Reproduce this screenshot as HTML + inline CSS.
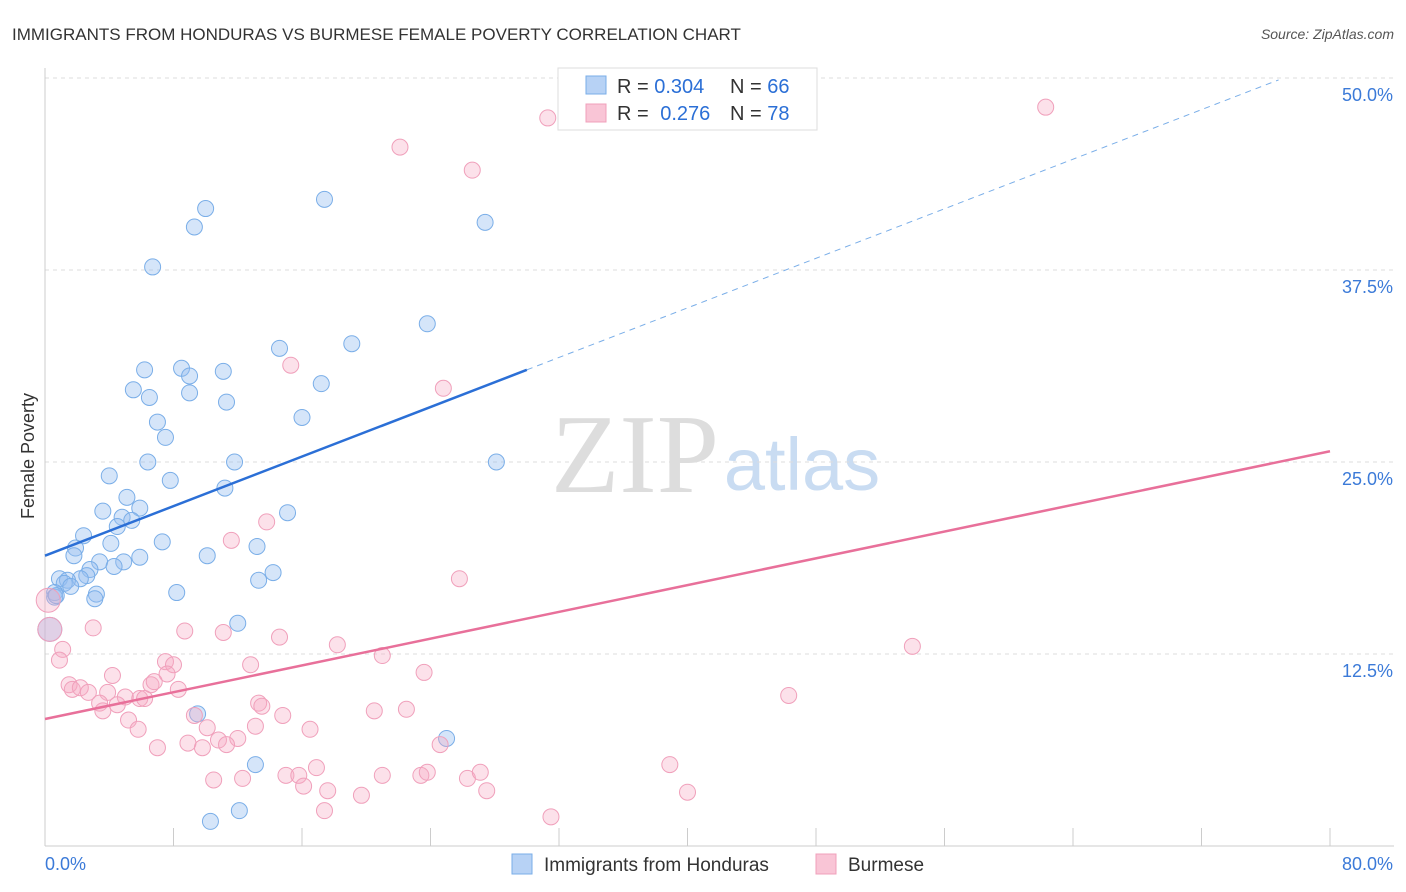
<!DOCTYPE html>
<html><head><meta charset="utf-8"><style>
body{margin:0;background:#fff;font-family:"Liberation Sans",sans-serif;}
svg{display:block}
</style></head><body>
<svg id="chart" width="1406" height="892">
<text x="12" y="40" font-size="17" fill="#333">IMMIGRANTS FROM HONDURAS VS BURMESE FEMALE POVERTY CORRELATION CHART</text>
<text x="1394" y="39" font-size="14" fill="#555" font-style="italic" text-anchor="end">Source: ZipAtlas.com</text>
<g>
<text x="635" y="492" font-size="112" font-family="Liberation Serif,serif" fill="#ddd" text-anchor="middle">ZIP</text>
<text x="802" y="490" font-size="74" fill="#c9dcf2" text-anchor="middle">atlas</text>
</g>
<g id="grid"></g>
<g id="axes"></g>
<g id="marks"></g>
<text transform="translate(34,456) rotate(-90)" font-size="18" fill="#333" text-anchor="middle">Female Poverty</text>
<g>
<rect x="558" y="68" width="259" height="62" fill="#fff" stroke="#ddd"/>
<rect x="586" y="76" width="20" height="18" fill="#b7d2f5" stroke="#7aaee8"/>
<rect x="586" y="104" width="20" height="18" fill="#f9c5d6" stroke="#f0a0bb"/>
<text x="617" y="93" font-size="20" fill="#333">R = <tspan fill="#2b6fd6">0.304</tspan><tspan x="730">N = </tspan><tspan fill="#2b6fd6">66</tspan></text>
<text x="617" y="120" font-size="20" fill="#333">R = <tspan fill="#2b6fd6" dx="6">0.276</tspan><tspan x="730">N = </tspan><tspan fill="#2b6fd6">78</tspan></text>
</g>
<g>
<rect x="512" y="854" width="20" height="20" fill="#b7d2f5" stroke="#7aaee8"/>
<text x="544" y="871" font-size="19" fill="#333">Immigrants from Honduras</text>
<rect x="816" y="854" width="20" height="20" fill="#f9c5d6" stroke="#f0a0bb"/>
<text x="848" y="871" font-size="19" fill="#333">Burmese</text>
</g>
</svg>
<script>
const yTicks=[12.5,25,37.5,50];
const yTickLabels=["12.5%","25.0%","37.5%","50.0%"];
const xTickLabels=["0.0%","80.0%"];
const hondurasX=[6.7,10.0,9.3,17.4,27.4,23.8,14.6,19.1,6.2,8.5,11.1,9.0,17.2,5.5,9.0,6.5,11.3,16.0,7.0,7.5,6.4,11.8,28.1,4.0,7.8,11.2,5.1,5.9,3.6,15.1,4.8,5.4,4.5,2.4,4.1,7.3,1.9,13.2,1.8,10.1,5.9,3.4,4.9,2.8,4.3,14.2,2.6,0.9,2.2,1.4,13.3,1.2,1.6,0.6,3.2,8.2,3.1,0.6,12.0,0.3,9.5,25.0,13.1,12.1,10.3,0.7];
const hondurasY=[37.7,41.5,40.3,42.1,40.6,34.0,32.4,32.7,31.0,31.1,30.9,30.6,30.1,29.7,29.5,29.2,28.9,27.9,27.6,26.6,25.0,25.0,25.0,24.1,23.8,23.3,22.7,22.0,21.8,21.7,21.4,21.2,20.8,20.2,19.7,19.8,19.4,19.5,18.9,18.9,18.8,18.5,18.5,18.0,18.2,17.8,17.6,17.4,17.4,17.3,17.3,17.1,16.9,16.5,16.4,16.5,16.1,16.2,14.5,14.1,8.6,7.0,5.3,2.3,1.6,16.3];
const burmeseX=[62.3,31.3,22.1,26.6,15.3,24.8,13.8,11.6,25.8,0.2,0.3,3.0,8.7,11.1,14.6,18.2,54.0,1.1,21.0,0.9,12.8,7.5,8.0,7.6,4.2,23.6,1.5,6.6,6.8,8.3,1.7,2.2,2.7,3.9,5.0,5.9,6.2,3.4,46.3,4.5,13.3,13.5,3.6,20.5,22.5,9.3,14.8,5.2,10.1,13.1,16.5,5.8,10.8,12.0,8.9,11.3,7.0,9.8,24.6,16.9,38.9,15.0,15.8,21.0,23.4,23.8,10.5,12.3,26.3,27.1,16.1,17.6,27.5,40.0,19.7,17.4,31.5];
const burmeseY=[48.1,47.4,45.5,44.0,31.3,29.8,21.1,19.9,17.4,16.0,14.1,14.2,14.0,13.9,13.6,13.1,13.0,12.8,12.4,12.1,11.8,12.0,11.8,11.2,11.1,11.3,10.5,10.5,10.7,10.2,10.2,10.3,10.0,10.0,9.7,9.6,9.6,9.3,9.8,9.2,9.3,9.1,8.8,8.8,8.9,8.5,8.5,8.2,7.7,7.8,7.6,7.6,6.9,7.0,6.7,6.6,6.4,6.4,6.6,5.1,5.3,4.6,4.6,4.6,4.6,4.8,4.3,4.4,4.4,4.8,3.9,3.6,3.6,3.5,3.3,2.3,1.9];
const hondurasTrend=[18.9,31.0];
const burmeseTrend=[8.27,25.7];
const NS="http://www.w3.org/2000/svg";
const X=v=>45+v*(1285/80), Y=v=>846-v*15.36;
function mk(p,t,a){const e=document.createElementNS(NS,t);for(const k in a)e.setAttribute(k,a[k]);p.appendChild(e);return e;}
const grid=document.getElementById('grid'),axes=document.getElementById('axes'),marks=document.getElementById('marks');
yTicks.forEach((v,i)=>{
 const l=mk(grid,'line',{x1:45,x2:1394,y1:Y(v),y2:Y(v),stroke:'#ddd','stroke-dasharray':'4,4'});
 
 
 const t=mk(axes,'text',{x:1393,y:Y(v)+23,'font-size':18,fill:'#3b7ad8','text-anchor':'end'});t.textContent=yTickLabels[i];
 
 
});
mk(axes,'line',{x1:45,x2:45,y1:68,y2:846,stroke:'#ccc'});
mk(axes,'line',{x1:45,x2:1394,y1:846,y2:846,stroke:'#ccc'});
for(let i=1;i<=10;i++){const xx=X(i*8);const tk=mk(axes,'line',{x1:xx,x2:xx,y1:828,y2:846,stroke:'#ccc'});
 
 }
const x0=mk(axes,'text',{x:45,y:870,'font-size':18,fill:'#3b7ad8'});x0.textContent=xTickLabels[0];


const x1=mk(axes,'text',{x:1393,y:870,'font-size':18,fill:'#3b7ad8','text-anchor':'end'});x1.textContent=xTickLabels[1];


function big(x,y){return x<0.5&&y>13;}
hondurasX.forEach((x,i)=>{const y=hondurasY[i];
 const c=mk(marks,'circle',{cx:X(x),cy:Y(y),r:big(x,y)?12:8,fill:'rgba(150,190,240,0.4)',stroke:'#7aaee8','stroke-width':1});
 
 });
burmeseX.forEach((x,i)=>{const y=burmeseY[i];
 const c=mk(marks,'circle',{cx:X(x),cy:Y(y),r:big(x,y)?12:8,fill:'rgba(245,170,195,0.35)',stroke:'#f0a0bb','stroke-width':1});
 
 });
const hs=(hondurasTrend[1]-hondurasTrend[0])/30;
const h1=mk(marks,'line',{x1:X(0),y1:Y(hondurasTrend[0]),x2:X(30),y2:Y(hondurasTrend[1]),stroke:'#2b6fd6','stroke-width':2.5});


const xe=76.8;
const h2=mk(marks,'line',{x1:X(30),y1:Y(hondurasTrend[1]),x2:X(xe),y2:Y(hondurasTrend[0]+hs*xe),stroke:'#7aaee8','stroke-width':1,'stroke-dasharray':'6,5'});


const b1=mk(marks,'line',{x1:X(0),y1:Y(burmeseTrend[0]),x2:X(80),y2:Y(burmeseTrend[1]),stroke:'#e8709a','stroke-width':2.5});


</script>
</body></html>
